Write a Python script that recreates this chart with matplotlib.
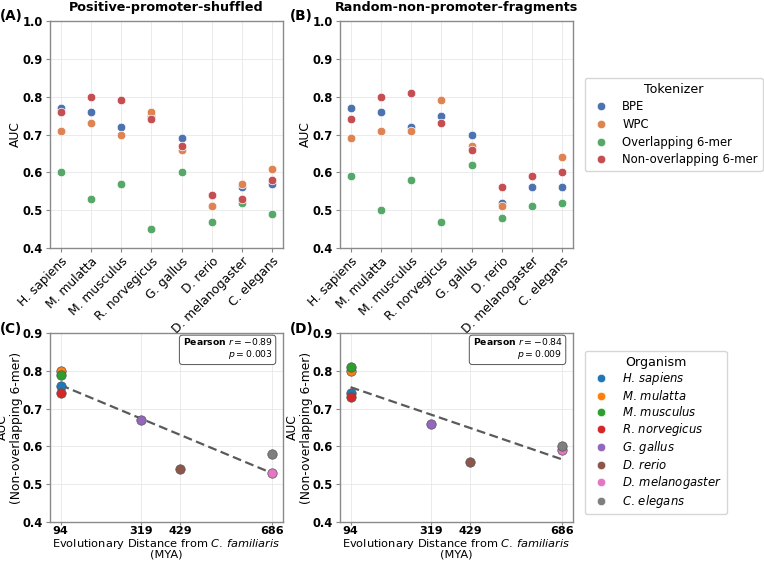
import numpy as np
import matplotlib
matplotlib.use("Agg")
import matplotlib.pyplot as plt
from matplotlib.lines import Line2D

# organisms / tokenizers
organisms = ["H. sapiens", "M. mulatta", "M. musculus", "R. norvegicus",
             "G. gallus", "D. rerio", "D. melanogaster", "C. elegans"]
tokenizers = ["BPE", "WPC", "Overlapping 6-mer", "Non-overlapping 6-mer"]

# AUC, positive-promoter-shuffled
pos_bpe = [0.77, 0.76, 0.72, 0.75, 0.69, 0.51, 0.56, 0.57]
pos_wpc = [0.71, 0.73, 0.70, 0.76, 0.66, 0.51, 0.57, 0.61]
pos_ovl = [0.60, 0.53, 0.57, 0.45, 0.60, 0.47, 0.52, 0.49]
pos_non = [0.76, 0.80, 0.79, 0.74, 0.67, 0.54, 0.53, 0.58]

# AUC, random-non-promoter-fragments
rnd_bpe = [0.77, 0.76, 0.72, 0.75, 0.70, 0.52, 0.56, 0.56]
rnd_wpc = [0.69, 0.71, 0.71, 0.79, 0.67, 0.51, 0.59, 0.64]
rnd_ovl = [0.59, 0.50, 0.58, 0.47, 0.62, 0.48, 0.51, 0.52]
rnd_non = [0.74, 0.80, 0.81, 0.73, 0.66, 0.56, 0.59, 0.60]

# evolutionary distance from C. familiaris (MYA)
distance = [94, 94, 94, 94, 319, 429, 686, 686]
dist_ticks = [94, 319, 429, 686]

# pearson stats as printed in the panels
pearson_r = [-0.89, -0.84]
pearson_p = [0.003, 0.009]

tok_colors = ["#4C72B0", "#DD8452", "#55A868", "#C44E52"]
org_colors = ["#1f77b4", "#ff7f0e", "#2ca02c", "#d62728",
              "#9467bd", "#8c564b", "#e377c2", "#7f7f7f"]

SPINE = "#8a8a8a"
W, H = 764, 564


def ax_at(fig, x0, y0, x1, y1):
    return fig.add_axes([x0 / W, 1 - y1 / H, (x1 - x0) / W, (y1 - y0) / H])


def style(ax):
    for s in ax.spines.values():
        s.set_color(SPINE)
        s.set_linewidth(1.0)
    ax.grid(True, color="#e8e8e8", linewidth=0.6)
    ax.set_axisbelow(True)
    ax.tick_params(colors=SPINE, labelcolor="black", length=3, width=0.8, pad=2)
    for lab in ax.get_yticklabels():
        lab.set_fontweight("bold")
        lab.set_fontsize(8.3)


def it(name):
    a, b = name.split(" ")
    return r"$\it{" + a + r"}\,\it{" + b + "}$"


fig = plt.figure(figsize=(W / 100, H / 100), dpi=100)

# top panels
tops = [("Positive-promoter-shuffled", "(A)", [pos_bpe, pos_wpc, pos_ovl, pos_non], 50),
        ("Random-non-promoter-fragments", "(B)", [rnd_bpe, rnd_wpc, rnd_ovl, rnd_non], 340)]
x = np.arange(len(organisms))
for title, tag, series, left in tops:
    ax = ax_at(fig, left, 21, left + 233, 248)
    for vals, c in zip(series, tok_colors):
        ax.scatter(x, vals, s=38, color=c, edgecolor="white", linewidth=0.5, zorder=3)
    ax.set_ylim(0.4, 1.0)
    ax.set_yticks(np.arange(0.4, 1.01, 0.1))
    ax.set_xlim(-0.35, 7.35)
    ax.set_xticks(x)
    ax.set_xticklabels(organisms, rotation=45, ha="right", rotation_mode="anchor",
                       fontsize=8.8)
    ax.set_ylabel("AUC", fontsize=8.8)
    ax.yaxis.set_label_coords(-0.12, 0.5)
    ax.set_title(title, fontsize=9.2, fontweight="bold", pad=7.5)
    style(ax)
    ax.text(-50 / 233, 1.022, tag, transform=ax.transAxes, fontsize=9.8,
            fontweight="bold", va="center", ha="left")

# bottom panels
bots = [("(C)", pos_non, 50), ("(D)", rnd_non, 340)]
for i, (tag, vals, left) in enumerate(bots):
    ax = ax_at(fig, left, 333, left + 233, 522)
    for xi, yi, c in zip(distance, vals, org_colors):
        ax.scatter(xi, yi, s=46, color=c, edgecolor="#555555", linewidth=0.5, zorder=3)
    xs = np.array(distance, float)
    k, b = np.polyfit(xs, np.array(vals), 1)
    xl = np.array([min(distance), max(distance)])
    ax.plot(xl, k * xl + b, "--", color="#5a5a5a", linewidth=1.6,
            dashes=(4, 2), zorder=2)
    ax.text(0.955, 0.982,
            r"$\bf{Pearson}$ $r = %.2f$" % pearson_r[i] + "\n" + r"$p = %.3f$" % pearson_p[i],
            transform=ax.transAxes, ha="right", va="top", fontsize=6.7,
            multialignment="right", linespacing=1.1,
            bbox=dict(boxstyle="round,pad=0.35", facecolor="white",
                      edgecolor="#555555", linewidth=0.7))
    ax.set_ylim(0.4, 0.9)
    ax.set_yticks(np.arange(0.4, 0.91, 0.1))
    ax.set_xticks(dist_ticks)
    ax.set_xticklabels([str(d) for d in dist_ticks], fontsize=8.1, fontweight="bold")
    ax.set_xlabel("Evolutionary Distance from " + r"$\it{C.}\,\it{familiaris}$" + "\n(MYA)",
                  fontsize=8.2, linespacing=0.8)
    ax.xaxis.set_label_coords(0.5, -0.082)
    ax.set_ylabel("AUC\n(Non-overlapping 6-mer)", fontsize=8.8, linespacing=1.1)
    ax.yaxis.set_label_coords(-0.118, 0.5)
    style(ax)
    ax.tick_params(axis="x", length=2.5, pad=0.3)
    ax.text(-50 / 233, 1.022, tag, transform=ax.transAxes, fontsize=9.8,
            fontweight="bold", va="center", ha="left")

# legends
h1 = [Line2D([], [], marker="o", linestyle="", markersize=6, color=c,
             markeredgecolor="white", markeredgewidth=0.4) for c in tok_colors]
fig.legend(h1, tokenizers, title="Tokenizer", loc="upper left",
           bbox_to_anchor=(585 / W, 1 - 78 / H), fontsize=8.4, title_fontsize=9.1,
           frameon=True, borderpad=0.4, handletextpad=0.8, labelspacing=0.4,
           borderaxespad=0)

h2 = [Line2D([], [], marker="o", linestyle="", markersize=6, color=c,
             markeredgecolor="white", markeredgewidth=0.4) for c in org_colors]
fig.legend(h2, [it(o) for o in organisms], title="Organism", loc="upper left",
           bbox_to_anchor=(585 / W, 1 - 351 / H), fontsize=8.4, title_fontsize=9.1,
           frameon=True, borderpad=0.4, handletextpad=0.8, labelspacing=0.15,
           borderaxespad=0)

fig.savefig("out.png", dpi=100)
